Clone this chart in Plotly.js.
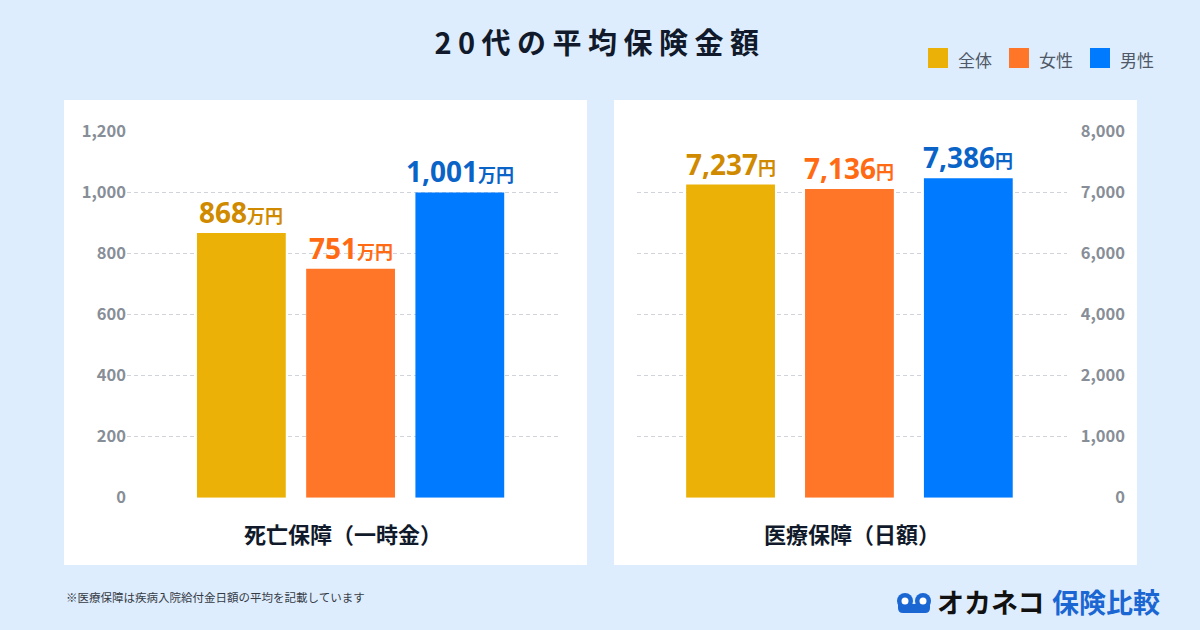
<!DOCTYPE html>
<html>
<head>
<meta charset="utf-8">
<script src="https://cdn.plot.ly/plotly-3.0.1.min.js"></script>
<style>
  html, body { margin: 0; padding: 0; background: #DEEDFD; }
  #chart { width: 1200px; height: 630px; }
  .gtitle { letter-spacing: 6.5px; }
</style>
</head>
<body>
<div id="chart"></div>
<script>
// ---- data ----
const groups = ['全体', '女性', '男性'];
const deathValues = [868, 751, 1001];          // 死亡保障（一時金） 万円
const medicalValues = [7237, 7136, 7386];      // 医療保障（日額） 円
const panelTitles = ['死亡保障（一時金）', '医療保障（日額）'];
const deathUnit = '万円';
const medicalUnit = '円';
const deathTickVals = [0, 200, 400, 600, 800, 1000, 1200];
const medicalTickText = ['0', '1,000', '2,000', '4,000', '6,000', '7,000', '8,000'];
const chartTitle = '20代の平均保険金額';
const footnote = '※医療保障は疾病入院給付金日額の平均を記載しています';

// ---- style ----
const barColors = ['#EBB107', '#FF7628', '#007BFF'];
const labelColors = ['#D08A00', '#FF6A12', '#0A64C8'];
const FONT = '"Noto Sans CJK JP", "Noto Sans", sans-serif';
const NUMFONT = '"Noto Sans", "Noto Sans CJK JP", sans-serif';
const W = 1200, H = 630;
const px = x => x / W;
const py = y => 1 - y / H;
const MED_MAX = 8460;

const fmt = v => v.toLocaleString('en-US');

const traces = [
  {
    type: 'bar', x: groups, y: deathValues, xaxis: 'x', yaxis: 'y',
    marker: { color: barColors }, width: 0.813, hoverinfo: 'skip', showlegend: false
  },
  {
    type: 'bar', x: groups, y: medicalValues, xaxis: 'x2', yaxis: 'y2',
    marker: { color: barColors }, width: 0.747, hoverinfo: 'skip', showlegend: false
  }
];

const annotations = [];
groups.forEach((g, i) => {
  annotations.push({
    xref: 'x', yref: 'y', x: g, y: deathValues[i], yanchor: 'bottom', yshift: 0,
    text: fmt(deathValues[i]) + '<span style="font-size:18px;font-family:\'Noto Sans CJK JP\'">' + deathUnit + '</span>',
    showarrow: false, font: { family: NUMFONT, size: 28, color: labelColors[i], weight: 'bold' }
  });
  annotations.push({
    xref: 'x2', yref: 'y2', x: g, y: medicalValues[i], yanchor: 'bottom', yshift: 0,
    text: fmt(medicalValues[i]) + '<span style="font-size:18px;font-family:\'Noto Sans CJK JP\'">' + medicalUnit + '</span>',
    showarrow: false, font: { family: NUMFONT, size: 28, color: labelColors[i], weight: 'bold' }
  });
});
// panel titles
annotations.push({
  xref: 'x domain', yref: 'paper', x: 0.5, y: py(533), yanchor: 'middle',
  text: panelTitles[0], showarrow: false,
  font: { family: FONT, size: 22, color: '#111A2B', weight: 'bold' }
});
annotations.push({
  xref: 'x2 domain', yref: 'paper', x: 0.5, y: py(533), yanchor: 'middle',
  text: panelTitles[1], showarrow: false,
  font: { family: FONT, size: 22, color: '#111A2B', weight: 'bold' }
});
// footnote
annotations.push({
  xref: 'paper', yref: 'paper', x: px(64), y: py(597), xanchor: 'left', yanchor: 'middle',
  text: footnote, showarrow: false, font: { family: FONT, size: 11.5, color: '#353B45' }
});
// logo text
annotations.push({
  xref: 'paper', yref: 'paper', x: px(935), y: py(601), xanchor: 'left', yanchor: 'middle',
  text: 'オカネコ', showarrow: false, font: { family: FONT, size: 27, color: '#111111', weight: 'bold' }
});
annotations.push({
  xref: 'paper', yref: 'paper', x: px(1050), y: py(601), xanchor: 'left', yanchor: 'middle',
  text: '保険比較', showarrow: false, font: { family: FONT, size: 27, color: '#1A66D2', weight: 'bold' }
});

const shapes = [
  { type: 'rect', xref: 'paper', yref: 'paper', x0: px(64), x1: px(587), y0: py(565), y1: py(100),
    fillcolor: '#FFFFFF', line: { width: 0 }, layer: 'below' },
  { type: 'rect', xref: 'paper', yref: 'paper', x0: px(614), x1: px(1137), y0: py(565), y1: py(100),
    fillcolor: '#FFFFFF', line: { width: 0 }, layer: 'below' }
];
// legend (custom)
const legendX = [928, 1009, 1090];
groups.forEach((g, i) => {
  shapes.push({ type: 'rect', xref: 'paper', yref: 'paper',
    x0: px(legendX[i]), x1: px(legendX[i] + 20), y0: py(68), y1: py(48),
    fillcolor: barColors[i], line: { width: 0 } });
  annotations.push({ xref: 'paper', yref: 'paper', x: px(legendX[i] + 28), y: py(59),
    xanchor: 'left', yanchor: 'middle', text: g, showarrow: false,
    font: { family: FONT, size: 17, color: '#4E5866' } });
});
// logo icon
const blue = '#1A66D2';
shapes.push({ type: 'path', xref: 'paper', yref: 'paper',
  path: `M${px(898)},${py(604)} L${px(930)},${py(604)} L${px(930)},${py(608)} Q${px(930)},${py(613)} ${px(925)},${py(613)} L${px(903)},${py(613)} Q${px(898)},${py(613)} ${px(898)},${py(608)} Z`,
  fillcolor: blue, line: { width: 0 } });
[905, 923].forEach(cx => {
  shapes.push({ type: 'circle', xref: 'paper', yref: 'paper',
    x0: px(cx - 8), x1: px(cx + 8), y0: py(609), y1: py(593), fillcolor: blue, line: { width: 0 } });
  shapes.push({ type: 'circle', xref: 'paper', yref: 'paper',
    x0: px(cx - 3.5), x1: px(cx + 3.5), y0: py(604.5), y1: py(597.5), fillcolor: '#FFFFFF', line: { width: 0 } });
});

const gridStyle = { showgrid: true, gridcolor: '#D0D4DA', gridwidth: 1, griddash: '4px,3px', zeroline: false,
  showline: false, ticks: '' };
const tickFont = { family: FONT, size: 16.5, color: '#878E97', weight: 'bold' };

const layout = {
  width: W, height: H,
  margin: { l: 0, r: 0, t: 0, b: 0 },
  paper_bgcolor: '#DEEDFD',
  plot_bgcolor: 'rgba(0,0,0,0)',
  showlegend: false,
  title: { text: chartTitle, x: 0.5, xanchor: 'center', y: py(44), yanchor: 'middle',
    font: { family: FONT, size: 29, color: '#111A2B', weight: 'bold' } },
  xaxis: { domain: [px(127), px(558)], range: [-1.047, 2.899], type: 'category',
    showticklabels: false, showgrid: false, zeroline: false, showline: false, fixedrange: true },
  yaxis: Object.assign({}, gridStyle, { domain: [py(497.7), py(131.7)], range: [0, 1200],
    tickvals: deathTickVals, ticktext: deathTickVals.map(fmt), tickfont: tickFont, anchor: 'x', side: 'left' }),
  xaxis2: { domain: [px(637), px(1067)], range: [-0.787, 2.830], type: 'category', anchor: 'y2',
    showticklabels: false, showgrid: false, zeroline: false, showline: false, fixedrange: true },
  yaxis2: Object.assign({}, gridStyle, { domain: [py(497.7), py(131.7)], range: [0, MED_MAX],
    tickvals: medicalTickText.map((t, i) => MED_MAX * i / (medicalTickText.length - 1)),
    ticktext: medicalTickText, tickfont: tickFont, anchor: 'free', position: px(1125), side: 'left' }),
  annotations: annotations,
  shapes: shapes
};

Plotly.newPlot('chart', traces, layout, { staticPlot: true, displayModeBar: false });
</script>
</body>
</html>
